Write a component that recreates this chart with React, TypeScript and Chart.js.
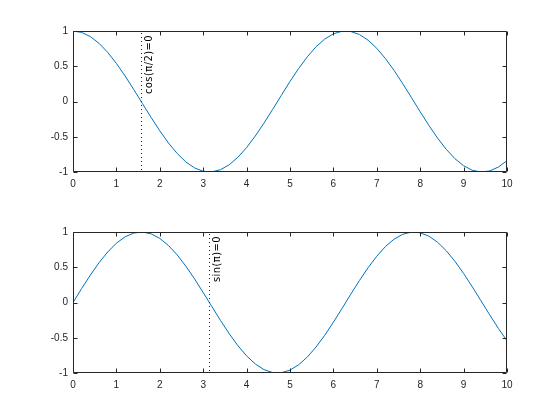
import React, { useEffect, useRef } from "react";
import { Chart, registerables } from "chart.js";

Chart.register(...registerables);

const xValues = [
  0, 0.2, 0.4, 0.6, 0.8, 1.0, 1.2, 1.4, 1.6, 1.8, 2.0, 2.2, 2.4, 2.6, 2.8, 3.0, 3.2, 3.4, 3.6, 3.8,
  4.0, 4.2, 4.4, 4.6, 4.8, 5.0, 5.2, 5.4, 5.6, 5.8, 6.0, 6.2, 6.4, 6.6, 6.8, 7.0, 7.2, 7.4, 7.6, 7.8,
  8.0, 8.2, 8.4, 8.6, 8.8, 9.0, 9.2, 9.4, 9.6, 9.8, 10.0,
];

const cosValues = [
  1.0, 0.98, 0.921, 0.825, 0.697, 0.54, 0.362, 0.17, -0.029, -0.227, -0.416, -0.589, -0.737, -0.857,
  -0.942, -0.99, -0.998, -0.967, -0.897, -0.791, -0.654, -0.49, -0.307, -0.112, 0.087, 0.284, 0.469,
  0.635, 0.776, 0.886, 0.96, 0.997, 0.993, 0.95, 0.869, 0.754, 0.608, 0.439, 0.251, 0.054, -0.146,
  -0.339, -0.519, -0.678, -0.811, -0.911, -0.975, -1.0, -0.985, -0.93, -0.839,
];

const sinValues = [
  0, 0.199, 0.389, 0.565, 0.717, 0.841, 0.932, 0.985, 1.0, 0.974, 0.909, 0.808, 0.675, 0.516, 0.335,
  0.141, -0.058, -0.256, -0.443, -0.612, -0.757, -0.872, -0.952, -0.994, -0.996, -0.959, -0.883,
  -0.773, -0.631, -0.465, -0.279, -0.083, 0.117, 0.312, 0.494, 0.657, 0.794, 0.899, 0.968, 0.999,
  0.989, 0.941, 0.855, 0.734, 0.585, 0.412, 0.223, 0.025, -0.174, -0.366, -0.544,
];

const xTicks = [0, 1, 2, 3, 4, 5, 6, 7, 8, 9, 10];
const yTicks = [-1, -0.5, 0, 0.5, 1];

const markerX = [1.5708, 3.1416];
const markerLabels = ["cos(π/2)=0", "sin(π)=0"];

const AXIS_COLOR = "#262626";
const LINE_COLOR = "#0072BD";
const FONT = "'Liberation Sans', Arial, sans-serif";
const NOTE_FONT = "'DejaVu Sans', sans-serif";

function makeBoxPlugin(markX: number, label: string) {
  return {
    id: "boxAndMarker",
    afterDatasetsDraw(chart: any) {
      const { ctx, chartArea } = chart;
      const xs = chart.scales.x;
      const ys = chart.scales.y;
      const { left, right, top, bottom } = chartArea;
      ctx.save();
      // marker dotted line
      const mx = Math.round(xs.getPixelForValue(markX)) + 0.5;
      ctx.strokeStyle = "#222";
      ctx.lineWidth = 1;
      ctx.setLineDash([1, 3]);
      ctx.beginPath();
      ctx.moveTo(mx, ys.getPixelForValue(1) + 2);
      ctx.lineTo(mx, ys.getPixelForValue(-1));
      ctx.stroke();
      ctx.setLineDash([]);
      // rotated label
      ctx.save();
      ctx.translate(mx + 3, ys.getPixelForValue(1) + 4);
      ctx.rotate(-Math.PI / 2);
      ctx.fillStyle = "#000";
      ctx.font = "10px " + NOTE_FONT;
      try {
        (ctx as any).letterSpacing = "0.4px";
      } catch (e) {}
      ctx.textAlign = "right";
      ctx.textBaseline = "top";
      ctx.fillText(label, 0, 0);
      ctx.restore();
      // box
      ctx.strokeStyle = AXIS_COLOR;
      ctx.lineWidth = 1;
      const l = Math.round(left) + 0.5;
      const r = Math.round(right) - 0.5;
      const t = Math.round(top) + 0.5;
      const b = Math.round(bottom) - 0.5;
      ctx.beginPath();
      ctx.rect(l, t, r - l, b - t);
      ctx.stroke();
      // inward ticks
      const tl = 4;
      ctx.beginPath();
      xTicks.forEach((v) => {
        const px = Math.round(xs.getPixelForValue(v)) + 0.5;
        ctx.moveTo(px, b);
        ctx.lineTo(px, b - tl);
        ctx.moveTo(px, t);
        ctx.lineTo(px, t + tl);
      });
      yTicks.forEach((v) => {
        const py = Math.round(ys.getPixelForValue(v)) + 0.5;
        ctx.moveTo(l, py);
        ctx.lineTo(l + tl, py);
        ctx.moveTo(r, py);
        ctx.lineTo(r - tl, py);
      });
      ctx.stroke();
      ctx.restore();
    },
  };
}

function makeConfig(values: number[], markX: number, label: string, padTop: number, axisH: number): any {
  return {
    type: "line",
    data: {
      datasets: [
        {
          data: xValues.map((x, i) => ({ x, y: values[i] })),
          borderColor: LINE_COLOR,
          borderWidth: 1,
          pointRadius: 0,
          tension: 0,
          fill: false,
        },
      ],
    },
    options: {
      animation: false,
      responsive: false,
      maintainAspectRatio: false,
      layout: { padding: { left: 0, right: 53, top: padTop, bottom: 0 } },
      plugins: { legend: { display: false }, tooltip: { enabled: false } },
      scales: {
        x: {
          type: "linear",
          min: 0,
          max: 10,
          afterBuildTicks: (s: any) => {
            s.ticks = xTicks.map((v) => ({ value: v }));
          },
          afterFit: (s: any) => {
            s.height = axisH;
          },
          grid: { display: false, drawTicks: false },
          border: { display: false },
          ticks: {
            color: AXIS_COLOR,
            font: { family: FONT, size: 10 },
            padding: 6,
            maxRotation: 0,
            callback: (v: any) => String(v),
          },
        },
        y: {
          type: "linear",
          min: -1,
          max: 1,
          afterBuildTicks: (s: any) => {
            s.ticks = yTicks.map((v) => ({ value: v }));
          },
          afterFit: (s: any) => {
            s.width = 73;
          },
          grid: { display: false, drawTicks: false },
          border: { display: false },
          ticks: {
            color: AXIS_COLOR,
            font: { family: FONT, size: 10 },
            padding: 5,
            callback: (v: any) => String(v),
          },
        },
      },
    },
    plugins: [makeBoxPlugin(markX, label)],
  };
}

export default function App() {
  const topRef = useRef<HTMLCanvasElement>(null);
  const botRef = useRef<HTMLCanvasElement>(null);

  useEffect(() => {
    const c1 = new Chart(topRef.current as HTMLCanvasElement, makeConfig(cosValues, markerX[0], markerLabels[0], 31, 38));
    const c2 = new Chart(botRef.current as HTMLCanvasElement, makeConfig(sinValues, markerX[1], markerLabels[1], 22, 47));
    return () => {
      c1.destroy();
      c2.destroy();
    };
  }, []);

  return (
    <div style={{ position: "fixed", left: 0, top: 0, width: 560, height: 420, background: "#fff" }}>
      <canvas ref={topRef} width={560} height={210} style={{ position: "absolute", left: 0, top: 0, width: 560, height: 210 }} />
      <canvas ref={botRef} width={560} height={210} style={{ position: "absolute", left: 0, top: 210, width: 560, height: 210 }} />
    </div>
  );
}
